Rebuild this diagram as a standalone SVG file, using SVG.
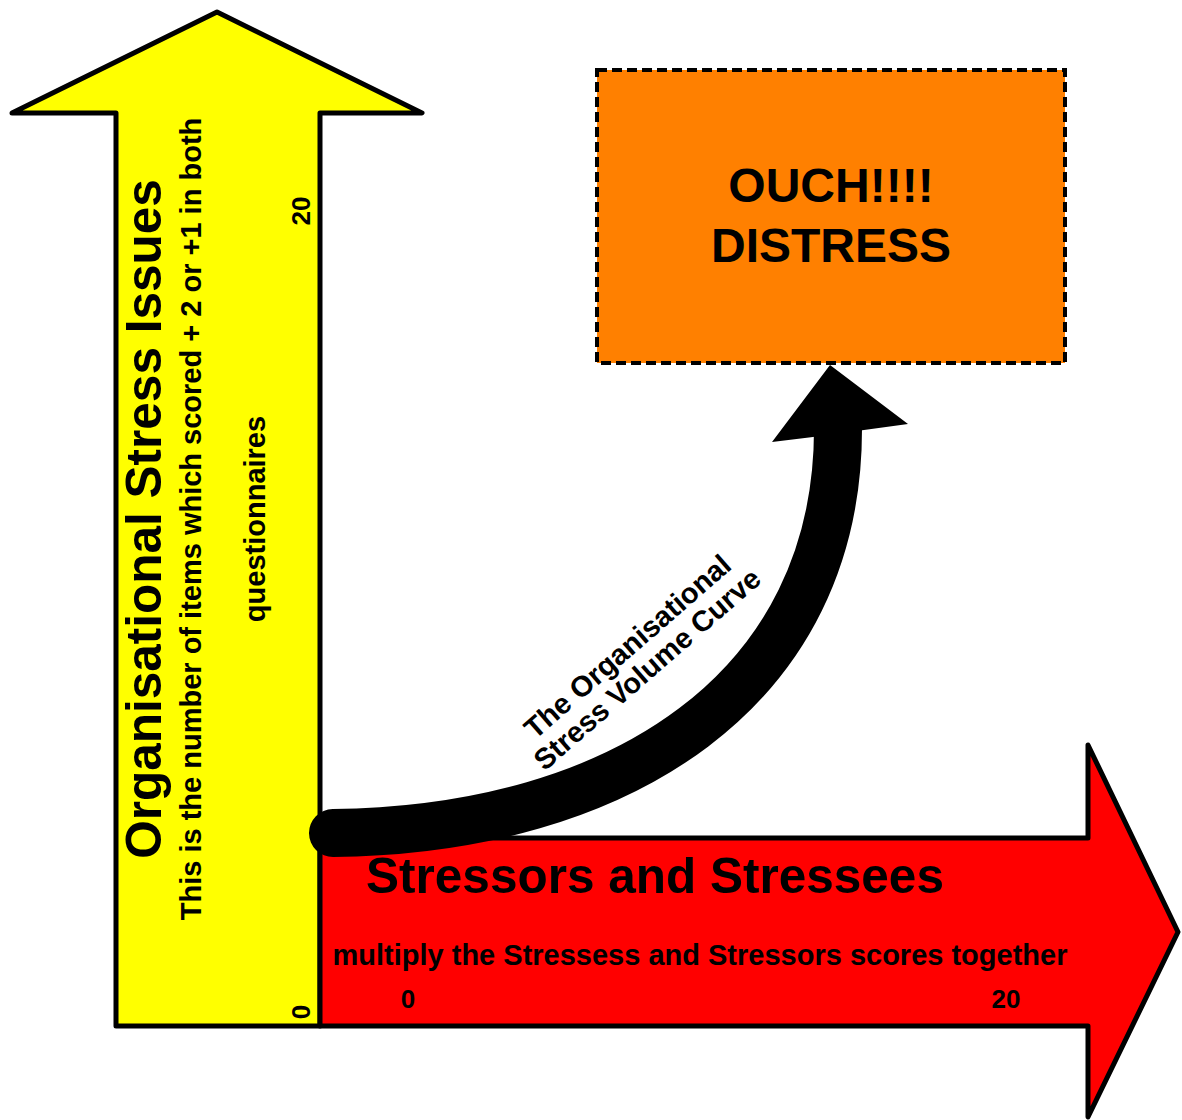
<svg xmlns="http://www.w3.org/2000/svg" width="1182" height="1120" viewBox="0 0 1182 1120">
<style>
text{font-family:"Liberation Sans",Arial,sans-serif;font-weight:bold;fill:#000}
.arrow{stroke:#000;stroke-width:5;stroke-linejoin:round}
.title{font-size:49.5px}
.sub{font-size:29px}
.num{font-size:26px}
</style>
<rect width="1182" height="1120" fill="#fff"/>
<g id="yellow-axis">
<polygon class="arrow" fill="#FFFF00" points="217,12 422,113 320,113 320,1026 116,1026 116,113 12,113"/>
<text class="title" text-anchor="middle" transform="translate(161,519) rotate(-90)">Organisational Stress Issues</text>
<text class="sub" text-anchor="middle" transform="translate(161,519) rotate(-90)"><tspan x="0" y="40">This is the number of items which scored + 2 or +1 in both</tspan><tspan x="0" y="104">questionnaires</tspan></text>
<text class="num" text-anchor="middle" transform="translate(310,211) rotate(-90)">20</text>
<text class="num" text-anchor="middle" transform="translate(310,1012) rotate(-90)">0</text>
</g>
<g id="red-axis">
<polygon class="arrow" fill="#FF0000" points="320,838 1088,838 1088,745 1178,932 1088,1117 1088,1026 320,1026"/>
<text class="title" x="655" y="893" text-anchor="middle">Stressors and Stressees</text>
<text class="sub" x="700" y="965" text-anchor="middle">multiply the Stressess and Stressors scores together</text>
<text class="num" x="408" y="1008" text-anchor="middle">0</text>
<text class="num" x="1006" y="1008" text-anchor="middle">20</text>
</g>
<g id="curve-label">
<text font-size="29" text-anchor="middle" transform="translate(634,654) rotate(-41)"><tspan x="0" y="0">The Organisational</tspan><tspan x="0" y="30">Stress Volume Curve</tspan></text>
</g>
<g id="connectors">
<path d="M333,833 C620,830 840,690 838,425" fill="none" stroke="#000" stroke-width="48" stroke-linecap="round"/>
<polygon fill="#000" points="830,365 908,424 864,430 813,437 772,442"/>
</g>
<g id="distress">
<rect x="597" y="70" width="468" height="293" fill="#FF8000" stroke="#000" stroke-width="4" stroke-dasharray="10 5"/>
<text class="title" x="831" y="202" text-anchor="middle" style="font-size:48px">OUCH!!!!</text>
<text class="title" x="831" y="262" text-anchor="middle" style="font-size:48px">DISTRESS</text>
</g>
</svg>
